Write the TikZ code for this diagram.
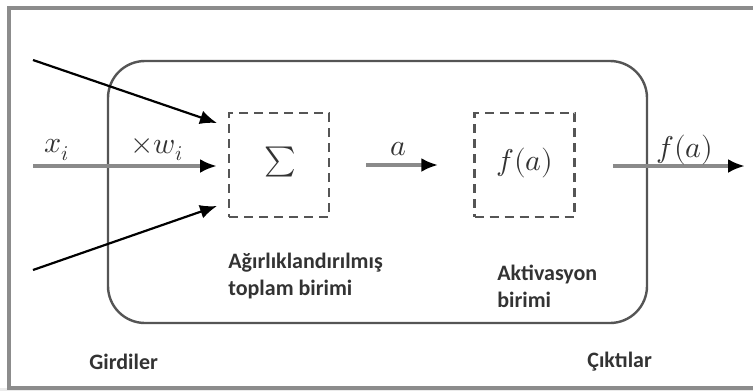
\documentclass[tikz,border=0pt]{standalone}
\usepackage{fontspec}
\setmainfont{Carlito}
\usepackage{unicode-math}
\setmathfont{Latin Modern Math}
\usetikzlibrary{arrows.meta}
\definecolor{framegray}{HTML}{8C8C8C}
\definecolor{linegray}{HTML}{8A8A8A}
\definecolor{boxgray}{HTML}{555555}
\definecolor{txt}{HTML}{333333}
\tikzset{
  px/.style={x=0.5pt,y=-0.5pt},
  tip/.style={-{Latex[length=8.5pt,width=7pt,color=black]}},
  thin arrow/.style={tip,draw=black,line width=1.1pt},
  thick arrow/.style={tip,draw=linegray,line width=2.2pt},
  dashbox/.style={draw=boxgray,line width=1.25pt,dash pattern=on 4.5pt off 3pt,minimum width=50pt,minimum height=52pt,inner sep=0pt},
  mathlbl/.style={text=txt,font=\fontsize{15}{18}\selectfont,inner sep=0pt},
  caption/.style={text=txt,font=\fontsize{11}{13.5}\selectfont\bfseries,align=left,anchor=west,inner sep=0pt},
}
\begin{document}
\begin{tikzpicture}[px]
\useasboundingbox (0,0) rectangle (753,391);
\fill[white] (0,0) rectangle (753,391);
\fill[black!8] (0,388) rectangle (753,391);
\draw[framegray,line width=1.6pt] (760,8) -- (9,8) -- (9,388) -- (760,388);
\node[draw=boxgray,line width=1.2pt,rounded corners=18.5pt,minimum width=269.5pt,minimum height=131pt] (unit) at (377.5,192) {};
\node[dashbox] (sumbox) at (279,165) {};
\node[mathlbl] (sigma) at (280,162) {$\sum$};
\node[dashbox] (fbox) at (524.5,165) {};
\node[mathlbl] (fa) at (525,163) {$f(a)$};
\coordinate (in1) at (33,60);
\coordinate (in2) at (33,166);
\coordinate (in3) at (33,270);
\coordinate (e1) at (217,123);
\coordinate (e2) at (217,166);
\coordinate (e3) at (217,206);
\coordinate (out) at (745,166);
\draw[thin arrow] (in1) -- (e1);
\draw[thin arrow] (in3) -- (e3);
\draw[thick arrow] (in2) -- (e2);
\draw[thick arrow,shorten <=18pt,shorten >=17.5pt] (sumbox.east) -- (fbox.west);
\draw[thick arrow,shorten <=18.5pt] (fbox.east |- out) -- (out);
\node[mathlbl] (xi) at (57,150) {$x_i$};
\node[mathlbl] (wi) at (157,150) {$\times w_i$};
\node[mathlbl] (alab) at (398,149) {$a$};
\node[mathlbl] (falab) at (685,150) {$f(a)$};
\node[caption] (sumtxt) at (228,276) {Ağırlıklandırılmış\\toplam birimi};
\node[caption] (acttxt) at (497,286.5) {Aktivasyon\\birimi};
\node[caption] (gird) at (89,362) {Girdiler};
\node[caption] (cikt) at (587,362) {Çıktılar};
\end{tikzpicture}
\end{document}
